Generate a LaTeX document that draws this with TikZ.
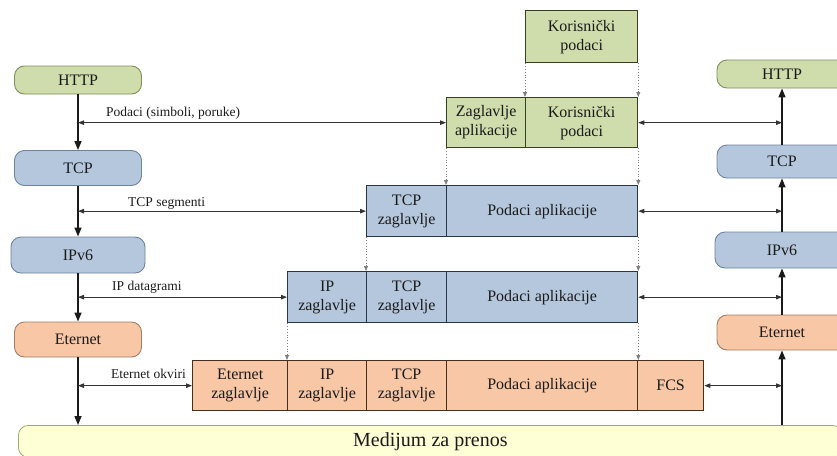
\documentclass[tikz,border=0pt]{standalone}
\usepackage{fontspec}
\setmainfont{LiberationSerif}[Extension=.ttf, UprightFont=*-Regular, BoldFont=*-Bold]
\newfontfamily\diagfont{LiberationSerif}[Extension=.ttf, UprightFont=*-Regular, BoldFont=*-Bold]
\usetikzlibrary{arrows.meta}

\definecolor{gfill}{HTML}{CFDCAB}
\definecolor{gline}{HTML}{34421F}
\definecolor{gpill}{HTML}{7E8F5C}
\definecolor{bfill}{HTML}{B5C7DD}
\definecolor{bline}{HTML}{29354A}
\definecolor{bpill}{HTML}{6F829C}
\definecolor{ofill}{HTML}{F8C7A6}
\definecolor{oline}{HTML}{45301F}
\definecolor{opill}{HTML}{A07E64}
\definecolor{mfill}{HTML}{FFFFD6}
\definecolor{mline}{HTML}{9CAC70}
\definecolor{ink}{HTML}{1A1A1A}
\definecolor{wire}{HTML}{333333}

\tikzset{
  x=1pt, y=-1pt,
  every node/.style={text=ink},
  cell/.style={draw, line width=1.3pt, inner sep=0pt, align=center, anchor=north west,
    font=\diagfont\fontsize{16}{19}\selectfont},
  gcell/.style={cell, fill=gfill, draw=gline},
  bcell/.style={cell, fill=bfill, draw=bline},
  ocell/.style={cell, fill=ofill, draw=oline},
  pill/.style={draw, rounded corners=10pt, line width=0.9pt, inner sep=0pt,
    font=\diagfont\fontsize{16}{19}\selectfont},
  gpillst/.style={pill, fill=gfill, draw=gpill},
  bpillst/.style={pill, fill=bfill, draw=bpill},
  opillst/.style={pill, fill=ofill, draw=opill},
  stackline/.style={draw=ink, line width=1.4pt, -{Triangle[length=9pt,width=7pt]}},
  exchange/.style={draw=wire, line width=0.8pt,
    {Triangle[length=6pt,width=4.5pt]}-{Triangle[length=6pt,width=4.5pt]}},
  encap/.style={draw=gray, line width=0.8pt, dotted, -{Triangle[length=5pt,width=4pt]}},
  flowlabel/.style={anchor=base west, inner sep=0pt, font=\diagfont\fontsize{13.5}{16}\selectfont},
}

\begin{document}
\begin{tikzpicture}
\useasboundingbox (0,0) rectangle (837,455);

% transmission medium
\node[draw=mline, fill=mfill, rounded corners=10pt, line width=0.8pt,
      minimum width=824pt, minimum height=32pt, anchor=north west,
      font=\diagfont\fontsize{20}{24}\selectfont] (med) at (18,425) {Medijum za prenos};

% sending stack
\node[gpillst, minimum width=127pt, minimum height=28pt] (lhttp) at (78,80) {HTTP};
\node[bpillst, minimum width=127pt, minimum height=35pt] (ltcp) at (78,168) {TCP};
\node[bpillst, minimum width=134pt, minimum height=36pt] (lipv) at (78,255) {IPv6};
\node[opillst, minimum width=127pt, minimum height=35pt] (leth) at (78,339.5) {Eternet};

% receiving stack
\node[gpillst, minimum width=130pt, minimum height=28pt] (rhttp) at (782,74) {HTTP};
\node[bpillst, minimum width=130pt, minimum height=33pt] (rtcp) at (782,161.5) {TCP};
\node[bpillst, minimum width=134pt, minimum height=36pt] (ripv) at (782,250) {IPv6};
\node[opillst, minimum width=130pt, minimum height=35pt] (reth) at (782,332.5) {Eternet};

% user data
\node[gcell, minimum width=112pt, minimum height=52pt] (top) at (525,10) {Korisnički\\podaci};

% application message
\node[gcell, minimum width=79pt, minimum height=50pt] (a1) at (446,97) {Zaglavlje\\aplikacije};
\node[gcell, minimum width=112pt, minimum height=50pt] (a2) at (525,97) {Korisnički\\podaci};

% TCP segment
\node[bcell, minimum width=80pt, minimum height=51pt] (b1) at (366,185) {TCP\\zaglavlje};
\node[bcell, minimum width=191pt, minimum height=51pt] (b2) at (446,185) {Podaci aplikacije};

% IP datagram
\node[bcell, minimum width=79pt, minimum height=51pt] (c1) at (287,271) {IP\\zaglavlje};
\node[bcell, minimum width=80pt, minimum height=51pt] (c2) at (366,271) {TCP\\zaglavlje};
\node[bcell, minimum width=191pt, minimum height=51pt] (c3) at (446,271) {Podaci aplikacije};

% Ethernet frame
\node[ocell, minimum width=95pt, minimum height=50pt] (d1) at (192,360) {Eternet\\zaglavlje};
\node[ocell, minimum width=79pt, minimum height=50pt] (d2) at (287,360) {IP\\zaglavlje};
\node[ocell, minimum width=80pt, minimum height=50pt] (d3) at (366,360) {TCP\\zaglavlje};
\node[ocell, minimum width=191pt, minimum height=50pt] (d4) at (446,360) {Podaci aplikacije};
\node[ocell, minimum width=66pt, minimum height=50pt] (d5) at (637,360) {FCS};

% encapsulation steps
\draw[encap] (top.south west) -- (a2.north west);
\draw[encap] (top.south east) -- (a2.north east);
\draw[encap] (a1.south west) -- (b2.north west);
\draw[encap] (a2.south east) -- (b2.north east);
\draw[encap] (b1.south west) -- (c2.north west);
\draw[encap] (b2.south east) -- (c3.north east);
\draw[encap] (c1.south west) -- (d2.north west);
\draw[encap] (c3.south east) -- (d4.north east);

% stack lines
\draw[stackline] (lhttp.south) -- (ltcp.north);
\draw[stackline] (ltcp.south) -- (lipv.north);
\draw[stackline] (lipv.south) -- (leth.north);
\draw[stackline] (leth.south) -- (leth.south |- med.north);
\draw[stackline] (reth.south |- med.north) -- (reth.south);
\draw[stackline] (reth.north) -- (ripv.south);
\draw[stackline] (ripv.north) -- (rtcp.south);
\draw[stackline] (rtcp.north) -- (rhttp.south);

% anchors on the stack lines
\coordinate (lx) at (78,0);
\coordinate (rx) at (782,0);

% exchanges between layers and data units
\draw[exchange] (lx |- a1.west) -- (a1.west);
\draw[exchange] (a2.east) -- (rx |- a2.east);
\draw[exchange] (lx |- b1.west) -- (b1.west);
\draw[exchange] (b2.east) -- (rx |- b2.east);
\draw[exchange] (lx |- c1.west) -- (c1.west);
\draw[exchange] (c3.east) -- (rx |- c3.east);
\draw[exchange] (lx |- d1.west) -- (d1.west);
\draw[exchange] (d5.east) -- (rx |- d5.east);

% data unit names
\node[flowlabel] (f1) at (106,116) {Podaci (simboli, poruke)};
\node[flowlabel] (f2) at (128,206) {TCP segmenti};
\node[flowlabel] (f3) at (112,290) {IP datagrami};
\node[flowlabel] (f4) at (111,378) {Eternet okviri};
\end{tikzpicture}
\end{document}
